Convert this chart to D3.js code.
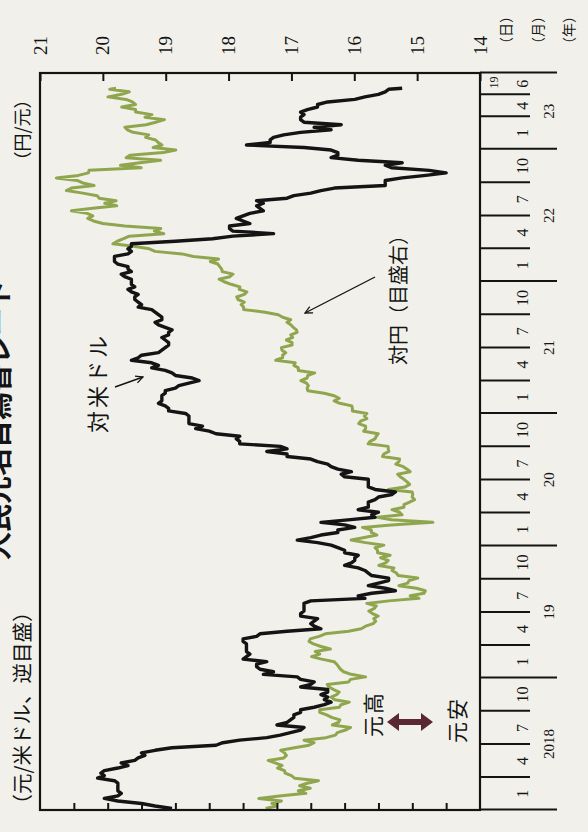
<!DOCTYPE html>
<html><head><meta charset="utf-8">
<script src="https://cdn.jsdelivr.net/npm/d3@7"></script>
<style>
html,body{margin:0;padding:0;background:#f1f0ea;}
svg{display:block;}
</style></head><body>
<svg id="chart" width="588" height="832"></svg>
<script>
// ---- DATA (weekly, Friday closes) ----
// 対米ドル: yuan per US dollar (reversed left scale)
const usdCny2018 = [6.49,6.44,6.40,6.33, 6.29,6.33,6.34,6.33, 6.33,6.33,6.33,6.32,6.27, 6.29,6.28,6.29,6.33, 6.36,6.34,6.38,6.39, 6.41,6.40,6.44,6.49,6.62, 6.64,6.69,6.77,6.81, 6.84,6.87,6.88,6.80,6.83, 6.84,6.85,6.85,6.87, 6.87,6.91,6.94,6.96, 6.94,6.95,6.93,6.95,6.95, 6.87,6.90,6.91,6.87];
const usdCny2019 = [6.86,6.76,6.79,6.75, 6.74,6.74,6.77,6.70, 6.71,6.72,6.71,6.71,6.71, 6.71,6.70,6.70,6.74, 6.75,6.83,6.93,6.91,6.90, 6.91,6.92,6.87,6.87, 6.88,6.88,6.88,6.88, 6.90,7.06,7.04,7.08,7.15, 7.12,7.07,7.10,7.13, 7.13,7.08,7.07,7.06, 7.04,7.00,7.02,7.03,7.03, 7.04,7.00,7.00,6.98];
const usdCny2020 = [6.96,6.92,6.86,6.90,6.93, 6.98,6.98,7.03,7.00, 6.93,7.01,7.09,7.08, 7.10,7.04,7.07,7.07, 7.07,7.09,7.10,7.14,7.15, 7.09,7.07,7.07,7.07, 7.07,7.00,6.99,7.02,6.98, 6.96,6.95,6.92,6.90, 6.83,6.83,6.77,6.83, 6.81,6.69,6.69,6.68,6.69, 6.62,6.60,6.56,6.58, 6.54,6.54,6.54,6.54];
const usdCny2021 = [6.53,6.48,6.48,6.47,6.45, 6.46,6.46,6.46,6.47, 6.47,6.50,6.51,6.54, 6.57,6.55,6.50,6.49,6.47, 6.43,6.45,6.43,6.37, 6.39,6.40,6.45,6.46, 6.47,6.48,6.48,6.47,6.46, 6.48,6.48,6.49,6.47, 6.45,6.44,6.46,6.46, 6.45,6.44,6.43,6.39,6.40, 6.39,6.38,6.38,6.39, 6.37,6.36,6.38,6.37,6.37];
const usdCny2022 = [6.37,6.35,6.34,6.37, 6.36,6.36,6.33,6.32, 6.32,6.32,6.36,6.37, 6.36,6.37,6.37,6.50,6.61, 6.67,6.79,6.67,6.66, 6.66,6.72,6.70,6.68, 6.70,6.72,6.76,6.75,6.74, 6.76,6.74,6.83,6.85, 6.90,6.93,6.97,7.12,7.12, 7.12,7.17,7.24,7.30, 7.25,7.14,7.12,7.17, 7.04,6.96,6.98,6.98,6.96];
const usdCny2023 = [6.88,6.71,6.78,6.78, 6.79,6.82,6.87,6.96, 6.91,6.99,6.88,6.87,6.87, 6.88,6.87,6.89,6.92, 6.92,6.95,7.03,7.06, 7.10,7.12,7.13];
// 対円: yen per yuan (right scale)
const jpyCny2018 = [17.41,17.24,17.31,17.16, 17.52,17.19,16.77,16.89, 16.70,16.87,16.75,16.57,16.95, 17.00,17.10,17.11,17.22, 17.15,17.26,17.37,17.12, 17.08,17.11,17.17,16.95,16.72, 16.64,16.80,16.45,16.30, 16.27,16.14,16.06,16.35,16.25, 16.23,16.36,16.44,16.55, 16.55,16.24,16.21,16.08, 16.31,16.37,16.28,16.24,16.33, 16.40,16.43,16.09,16.06];
const jpyCny2019 = [15.82,16.05,16.17,16.22, 16.25,16.28,16.32,16.52, 16.68,16.55,16.62,16.38,16.53, 16.65,16.72,16.70,16.56, 16.46,16.09,15.89,15.82,15.70, 15.66,15.69,15.62,15.71, 15.77,15.68,15.65,15.80, 15.45,14.97,15.11,14.89,14.87, 15.01,15.29,15.15,15.13, 14.99,15.30,15.33,15.40, 15.37,15.61,15.50,15.46,15.58, 15.43,15.63,15.63,15.67];
const jpyCny2020 = [15.53,15.82,16.05,15.84,15.64, 15.73,15.73,15.87,15.41, 14.75,15.41,15.63,15.24, 15.28,15.40,15.21,15.21, 15.12,15.04,15.08,15.07,15.08, 15.46,15.19,15.12,15.16, 15.21,15.27,15.31,15.11,15.16, 15.22,15.34,15.29,15.28, 15.55,15.53,15.45,15.46, 15.46,15.78,15.75,15.67,15.65, 15.62,15.85,15.82,15.82, 15.93,15.90,15.80,15.84];
const jpyCny2021 = [15.80,16.03,16.03,16.04,16.23, 16.32,16.24,16.32,16.48, 16.74,16.75,16.73,16.76, 16.85,16.75,16.74,16.63,16.89, 16.89,16.96,16.94,17.25, 17.14,17.14,17.09,17.15, 17.16,16.99,16.99,17.08,16.98, 17.01,16.91,16.92,16.97, 17.01,17.07,17.01,17.14, 17.21,17.42,17.76,17.76,17.80, 17.75,17.85,17.87,17.75, 17.71,17.83,17.82,17.96,18.07];
const jpyCny2022 = [18.15,17.98,17.93,18.10, 18.11,18.14,18.17,18.29, 18.16,18.56,18.74,19.17, 19.26,19.51,19.84,19.77,19.67, 19.58,19.03,19.18,19.08, 19.65,20.00,20.15,20.24, 20.16,20.25,20.50,20.16,19.78, 19.97,19.79,20.06,20.09, 20.32,20.58,20.50,20.14,20.32, 20.41,20.74,20.39,20.23, 20.22,19.39,19.72,19.41, 19.08,19.63,19.57,19.04,18.84];
const jpyCny2023 = [19.20,19.06,19.12,19.16, 19.32,19.27,19.52,19.61, 19.65,19.31,19.16,19.02,19.33, 19.22,19.48,19.48,19.70, 19.48,19.53,19.63,19.92, 19.70,19.58,19.89];
// last day: 2023/6/19
const lastDay = ["2023-06-19"];
const lastUsdCny = [7.17];
const lastJpyCny = [19.79];

const years = [2018, 2019, 2020, 2021, 2022, 2023];
const yearLabels = ["2018", "19", "20", "21", "22", "23"];
const yenTicks = [14, 15, 16, 17, 18, 19, 20, 21];
const cnyTicks = [6.2, 6.3, 6.4, 6.5, 6.6, 6.7, 6.8, 6.9, 7.0, 7.1, 7.2, 7.3];

// ---- LAYOUT (drawn in the original landscape frame, then turned 90° CCW) ----
const W = 588, H = 832;
const svg = d3.select("#chart");
svg.append("rect").attr("width", W).attr("height", H).attr("fill", "#f1f0ea");
const g = svg.append("g").attr("transform", `translate(0,${H}) rotate(-90)`);

const startDate = new Date(2018, 0, 1), endDate = new Date(2023, 6, 31);
const lastDate = d3.timeParse("%Y-%m-%d")(lastDay[0]);
const t = d3.scaleTime().domain([startDate, endDate]).range([22, 759]);
const yen = d3.scaleLinear().domain([14, 21]).range([480, 40]);
const cny = d3.scaleLinear().domain([6.1, 7.4]).range([40, 480]);

const usdArr = [usdCny2018, usdCny2019, usdCny2020, usdCny2021, usdCny2022, usdCny2023];
const jpyArr = [jpyCny2018, jpyCny2019, jpyCny2020, jpyCny2021, jpyCny2022, jpyCny2023];
function build(arrs, last) {
  const out = [];
  years.forEach((y, i) => {
    const stop = y === 2023 ? new Date(2023, 5, 17) : new Date(y + 1, 0, 1);
    const ds = d3.timeFriday.range(new Date(y, 0, 1), stop);
    arrs[i].forEach((v, k) => { if (ds[k]) out.push({date: ds[k], v}); });
  });
  out.push({date: lastDate, v: last[0]});
  return out;
}
const usd = build(usdArr, lastUsdCny);
const jpy = build(jpyArr, lastJpyCny);

const JP = "'Noto Sans CJK JP', 'Noto Sans', sans-serif";
const SERIF = "'Liberation Serif', 'DejaVu Serif', serif";
const INK = "#141414";

// clip
g.append("clipPath").attr("id", "plotclip").append("rect")
  .attr("x", 22).attr("y", 40).attr("width", 759 - 22).attr("height", 440);

// lines
const plot = g.append("g").attr("clip-path", "url(#plotclip)");
plot.append("path").datum(jpy)
  .attr("d", d3.line().x(d => t(d.date)).y(d => yen(d.v)))
  .attr("fill", "none").attr("stroke", "#8fa64f").attr("stroke-width", 3)
  .attr("stroke-linejoin", "round");
plot.append("path").datum(usd)
  .attr("d", d3.line().x(d => t(d.date)).y(d => cny(d.v)))
  .attr("fill", "none").attr("stroke", INK).attr("stroke-width", 3.4)
  .attr("stroke-linejoin", "round");

// frame
g.append("rect").attr("x", 22).attr("y", 40).attr("width", 759 - 22).attr("height", 440)
  .attr("fill", "none").attr("stroke", INK).attr("stroke-width", 2.2);

// time axis ticks
const quarterTicks = d3.timeMonth.every(3).range(new Date(2018, 3, 1), new Date(2023, 4, 1))
  .filter(d => d.getMonth() !== 0).concat([new Date(2023, 5, 1)]);
const yearTicks = d3.timeYear.range(startDate, new Date(2023, 0, 2)).concat([endDate]);
function styleAxis(s) {
  s.select(".domain").remove();
  s.selectAll("line").attr("stroke", INK).attr("stroke-width", 2);
}
g.append("g").attr("transform", "translate(0,480)")
  .call(d3.axisBottom(t).tickValues(quarterTicks).tickSize(50).tickFormat(""))
  .call(styleAxis);
g.append("g").attr("transform", "translate(0,480)")
  .call(d3.axisBottom(t).tickValues(yearTicks).tickSize(77).tickFormat(""))
  .call(styleAxis);

// month labels centred in each interval
const bounds = [startDate].concat(d3.timeMonth.every(3).range(new Date(2018, 3, 1), new Date(2023, 4, 1)))
  .concat([new Date(2023, 5, 1), endDate]);
const monthLab = [];
for (let i = 0; i < bounds.length - 1; i++) monthLab.push({a: bounds[i], b: bounds[i + 1]});
g.append("g").selectAll("text").data(monthLab).join("text")
  .attr("x", d => (t(d.a) + t(d.b)) / 2).attr("y", 522)
  .attr("text-anchor", "middle").attr("dominant-baseline", "central")
  .attr("font-family", SERIF).attr("font-size", 16).attr("fill", INK)
  .text(d => d.a.getMonth() + 1);

// day label
g.append("text").attr("x", (t(lastDate) + t(endDate)) / 2 - 2).attr("y", 494)
  .attr("text-anchor", "middle").attr("dominant-baseline", "central")
  .attr("font-family", SERIF).attr("font-size", 12).attr("fill", INK)
  .text(d3.timeFormat("%-d")(lastDate));

// year labels
const yb = years.map(y => new Date(y, 0, 1)).concat([endDate]);
g.append("g").selectAll("text").data(yearLabels).join("text")
  .attr("x", (d, i) => (t(yb[i]) + t(yb[i + 1])) / 2).attr("y", 549)
  .attr("text-anchor", "middle").attr("dominant-baseline", "central")
  .attr("font-family", SERIF).attr("font-size", 15).attr("fill", INK)
  .text(d => d);

// unit headers
[["（日）", 505], ["（月）", 537], ["（年）", 568]].forEach(([s, v]) => {
  g.append("text").attr("x", 802).attr("y", v).attr("text-anchor", "middle")
    .attr("dominant-baseline", "central").attr("font-family", JP).attr("font-size", 14)
    .attr("fill", INK).text(s);
});

// right (yen) axis
g.append("g").attr("transform", "translate(759,0)")
  .call(d3.axisRight(yen).tickValues(yenTicks).tickSize(-8).tickPadding(18).tickFormat(d3.format("d")))
  .call(s => {
    s.select(".domain").remove();
    s.selectAll("line").attr("stroke", INK).attr("stroke-width", 2);
    s.selectAll("text").attr("font-family", SERIF).attr("font-size", 19).attr("fill", INK);
  });

// left (yuan per dollar, reversed) axis ticks
g.append("g").attr("transform", "translate(22,0)")
  .call(d3.axisLeft(cny).tickValues(cnyTicks).tickSize(-7).tickFormat(""))
  .call(styleAxis);

// titles & units
g.append("text").attr("x", 412).attr("y", -3).attr("text-anchor", "middle")
  .attr("dominant-baseline", "central").attr("font-family", JP).attr("font-weight", 700)
  .attr("font-size", 28).attr("fill", INK).text("人民元名目為替レート");
g.append("text").attr("x", 702).attr("y", 21).attr("text-anchor", "middle")
  .attr("dominant-baseline", "central").attr("font-family", JP).attr("font-size", 18)
  .attr("fill", INK).text("（円/元）");
g.append("text").attr("x", 124).attr("y", 21).attr("text-anchor", "middle")
  .attr("dominant-baseline", "central").attr("font-family", JP).attr("font-size", 20.5)
  .attr("fill", INK).text("（元/米ドル、逆目盛）");

// annotations
g.append("text").attr("x", 449).attr("y", 96).attr("text-anchor", "middle")
  .attr("dominant-baseline", "central").attr("font-family", JP).attr("font-size", 22)
  .attr("letter-spacing", 3).attr("fill", INK).text("対米ドル");
g.append("text").attr("x", 537).attr("y", 397).attr("text-anchor", "middle")
  .attr("dominant-baseline", "central").attr("font-family", JP).attr("font-size", 20)
  .attr("fill", INK).text("対円（目盛右）");
g.append("text").attr("x", 118).attr("y", 372).attr("text-anchor", "middle")
  .attr("dominant-baseline", "central").attr("font-family", JP).attr("font-size", 21)
  .attr("letter-spacing", 2).attr("fill", INK).text("元高");
g.append("text").attr("x", 112).attr("y", 456).attr("text-anchor", "middle")
  .attr("dominant-baseline", "central").attr("font-family", JP).attr("font-size", 21)
  .attr("letter-spacing", 2).attr("fill", INK).text("元安");

// pointer arrows
const defs = g.append("defs");
defs.append("marker").attr("id", "vhead").attr("viewBox", "0 0 10 10")
  .attr("refX", 9).attr("refY", 5).attr("markerWidth", 9).attr("markerHeight", 9)
  .attr("markerUnits", "userSpaceOnUse").attr("orient", "auto")
  .append("path").attr("d", "M1,1 L9,5 L1,9").attr("fill", "none")
  .attr("stroke", INK).attr("stroke-width", 1.4);
[[445, 115, 455, 143], [555, 375, 519, 305]].forEach(([u1, v1, u2, v2]) => {
  g.append("line").attr("x1", u1).attr("y1", v1).attr("x2", u2).attr("y2", v2)
    .attr("stroke", INK).attr("stroke-width", 1.4).attr("marker-end", "url(#vhead)");
});

// double arrow (元高 ⇔ 元安)
const au = 110, a1 = 387, a2 = 433;
g.append("path")
  .attr("d", `M${au},${a1} L${au + 9},${a1 + 12} L${au + 3},${a1 + 12} L${au + 3},${a2 - 12} L${au + 9},${a2 - 12} L${au},${a2} L${au - 9},${a2 - 12} L${au - 3},${a2 - 12} L${au - 3},${a1 + 12} L${au - 9},${a1 + 12} Z`)
  .attr("fill", "#5a2833");
</script>
</body></html>
